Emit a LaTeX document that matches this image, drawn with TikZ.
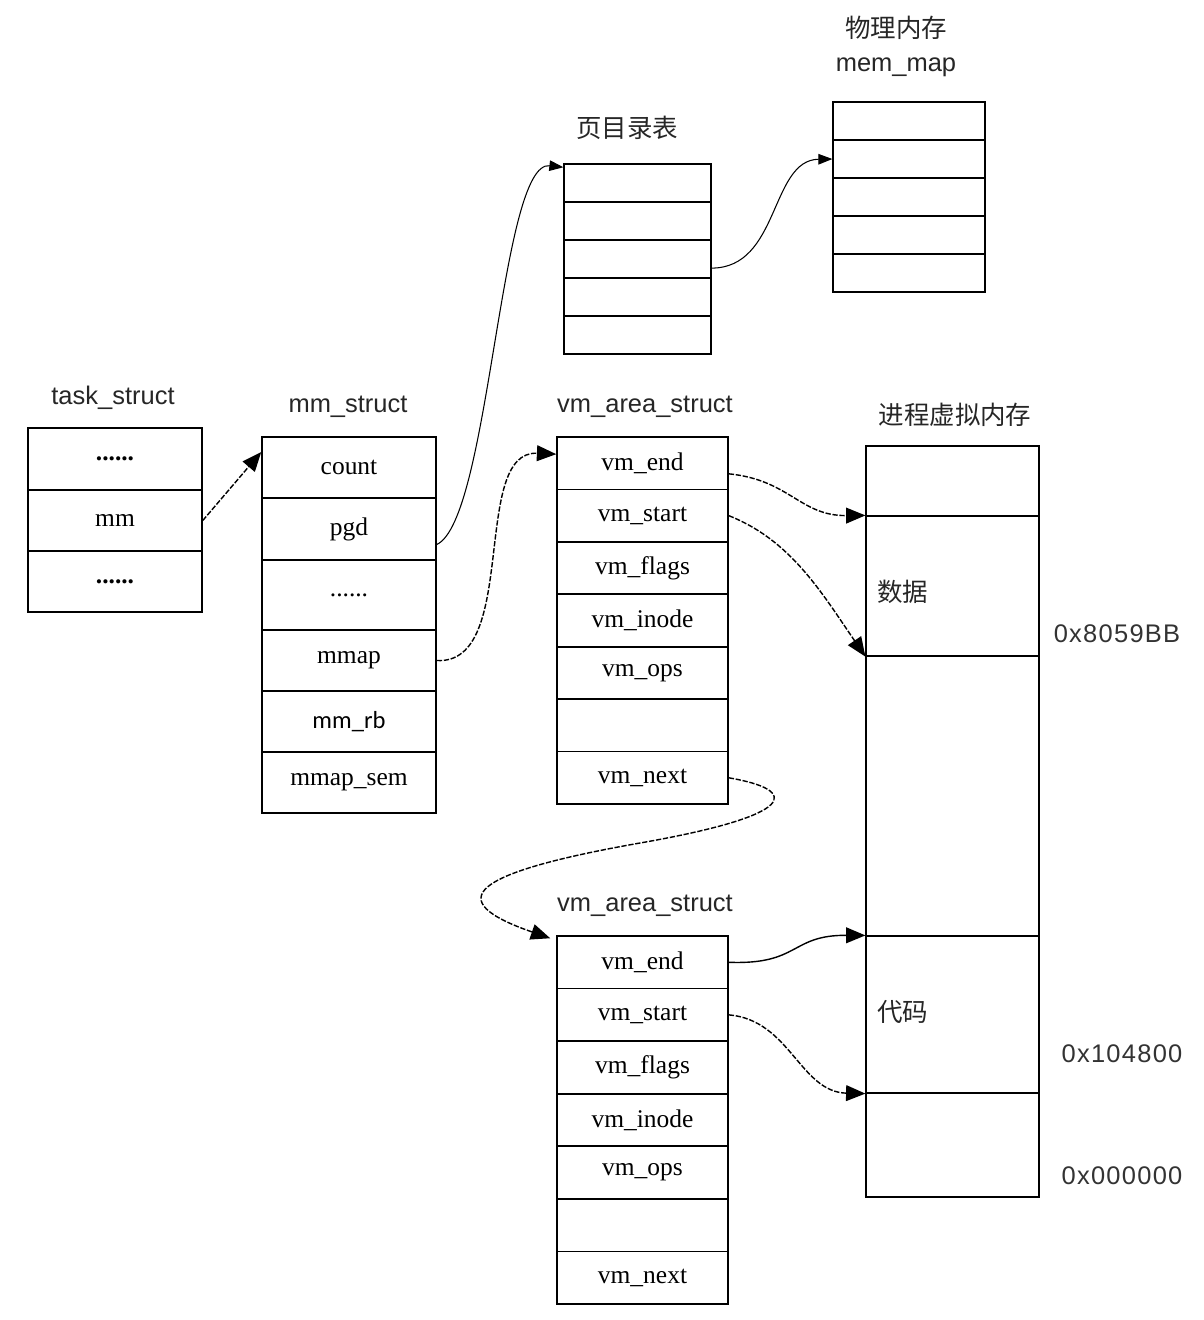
\documentclass[tikz,border=0pt]{standalone}
\usepackage{fontspec}
\setmainfont{Liberation Serif}
\newfontfamily\hdfont{Liberation Sans}
\newfontfamily\addrfont[LetterSpace=5]{Liberation Sans}
\newfontfamily\rbfont{Carlito}
\newfontfamily\cjk{Noto Sans CJK SC}
\usetikzlibrary{arrows.meta,calc}

\tikzset{
  fieldbox/.style={draw, line width=0.9pt, inner sep=0pt, font=\fontsize{14.5}{17}\selectfont},
  slotbox/.style={draw, line width=0.7pt, inner sep=0pt},
  title/.style={font=\hdfont\fontsize{14.5}{17}\selectfont, text=black!85},
  cjktitle/.style={font=\cjk\fontsize{14.5}{17}\selectfont, text=black!85},
  addr/.style={font=\addrfont\fontsize{14.5}{17}\selectfont, text=black!80},
  ptrlink/.style={line width=0.8pt, dash pattern=on 3pt off 1pt, -{Triangle[length=11pt,width=9pt]}},
  solidlink/.style={line width=0.8pt, -{Triangle[length=11pt,width=9pt]}},
  pglink/.style={line width=0.6pt, -{Triangle[length=8pt,width=6pt]}}
}

\begin{document}
\begin{tikzpicture}[x=0.02cm, y=-0.02cm]
    \useasboundingbox (0,0) rectangle (1204,1320);

    % task_struct
    \node[title] (tasktitle) at (113,398) {task\_struct};
    \node[fieldbox, minimum width=3.48cm, minimum height=1.23cm] (tdots1) at (115,459) {\textbf{......}};
    \node[fieldbox, minimum width=3.48cm, minimum height=1.22cm] (tmm) at (115,520.5) {mm};
    \node[fieldbox, minimum width=3.48cm, minimum height=1.22cm] (tdots2) at (115,581.5) {\textbf{......}};

    % mm_struct
    \node[title] (mmtitle) at (348,407) {mm\_struct};
    \node[fieldbox, minimum width=3.48cm, minimum height=1.22cm] (count) at (349,467.5) {count};
    \node[fieldbox, minimum width=3.48cm, minimum height=1.24cm] (pgd) at (349,529) {pgd};
    \node[fieldbox, minimum width=3.48cm, minimum height=1.4cm] (mdots) at (349,595) {......};
    \node[fieldbox, minimum width=3.48cm, minimum height=1.22cm] (mmap) at (349,660.5) {mmap};
    \node[fieldbox, minimum width=3.48cm, minimum height=1.22cm, font=\rbfont\fontsize{14}{17}\selectfont] (mmrb) at (349,721.5) {mm\_rb};
    \node[fieldbox, minimum width=3.48cm, minimum height=1.22cm] (mmapsem) at (349,782.5) {mmap\_sem};

    % page directory
    \node[cjktitle] (pdtitle) at (627,128) {页目录表};
    \foreach \i in {1,...,5}
        \node[slotbox, minimum width=2.94cm, minimum height=0.76cm] (pd\i) at (637.5,{164+38*(\i-0.5)}) {};

    % mem_map
    \node[cjktitle] (phystitle) at (896,28) {物理内存};
    \node[title] (memtitle) at (896,67) {mem\_map};
    \foreach \i in {1,...,5}
        \node[slotbox, minimum width=3.04cm, minimum height=0.76cm] (pm\i) at (909,{102+38*(\i-0.5)}) {};

    % vm_area_struct (first)
    \node[title] (vatitle) at (645,407) {vm\_area\_struct};
    \foreach \txt [count=\i] in {vm\_end, vm\_start, vm\_flags, vm\_inode, vm\_ops, {}, vm\_next}
        \node[fieldbox, minimum width=3.42cm, minimum height=1.05cm] (va\i) at (642.5,{437+52.43*(\i-0.5)}) {\txt};

    % vm_area_struct (second)
    \node[title] (vbtitle) at (645,906) {vm\_area\_struct};
    \foreach \txt [count=\i] in {vm\_end, vm\_start, vm\_flags, vm\_inode, vm\_ops, {}, vm\_next}
        \node[fieldbox, minimum width=3.42cm, minimum height=1.05cm] (vb\i) at (642.5,{936+52.57*(\i-0.5)}) {\txt};

    % process virtual memory
    \node[cjktitle] (vmtitle) at (955,415) {进程虚拟内存};
    \node[slotbox, minimum width=3.46cm, minimum height=1.4cm] (seg1) at (952.5,481) {};
    \node[slotbox, minimum width=3.46cm, minimum height=2.8cm] (seg2) at (952.5,586) {};
    \node[slotbox, minimum width=3.46cm, minimum height=5.6cm] (seg3) at (952.5,796) {};
    \node[slotbox, minimum width=3.46cm, minimum height=3.14cm] (seg4) at (952.5,1014.5) {};
    \node[slotbox, minimum width=3.46cm, minimum height=2.08cm] (seg5) at (952.5,1145) {};
    \node[cjktitle, anchor=west] (datalbl) at (871,592) {数据};
    \node[cjktitle, anchor=west] (codelbl) at (871,1012) {代码};
    \node[addr] (addrdata) at (1117,634) {0x8059BB};
    \node[addr] (addrcode) at (1122,1054) {0x104800};
    \node[addr] (addrzero) at (1122,1176) {0x000000};

    % pointers
    \draw[ptrlink] (tmm.east) -- (count.170); % mm -> mm_struct
    \draw[pglink] (pgd.-10) .. controls (490,520) and (500,160) .. (pd1.168); % pgd -> page directory
    \draw[pglink] (pd3.-7) .. controls (780,268) and (770,160) .. (pm2.west); % page directory -> mem_map
    \draw[ptrlink] (mmap.east) .. controls (520,665) and (470,450) .. (va1.174); % mmap -> vm_area_struct
    \draw[ptrlink] (va1.-7) .. controls (790,480) and (800,516) .. (seg2.north west); % vm_end
    \draw[ptrlink] (va2.east) .. controls (790,540) and (820,590) .. (seg2.south west); % vm_start
    \draw[ptrlink] (va7.east) .. controls (800,790) and (800,815) .. (640,843)
        .. controls (470,873) and (440,900) .. ($(vb1.north west)+(-6,3)$); % vm_next
    \draw[solidlink] (vb1.east) .. controls (800,965) and (790,935) .. (seg4.north west); % vm_end
    \draw[ptrlink] (vb2.east) .. controls (790,1020) and (800,1092) .. (seg4.south west); % vm_start

\end{tikzpicture}
\end{document}
